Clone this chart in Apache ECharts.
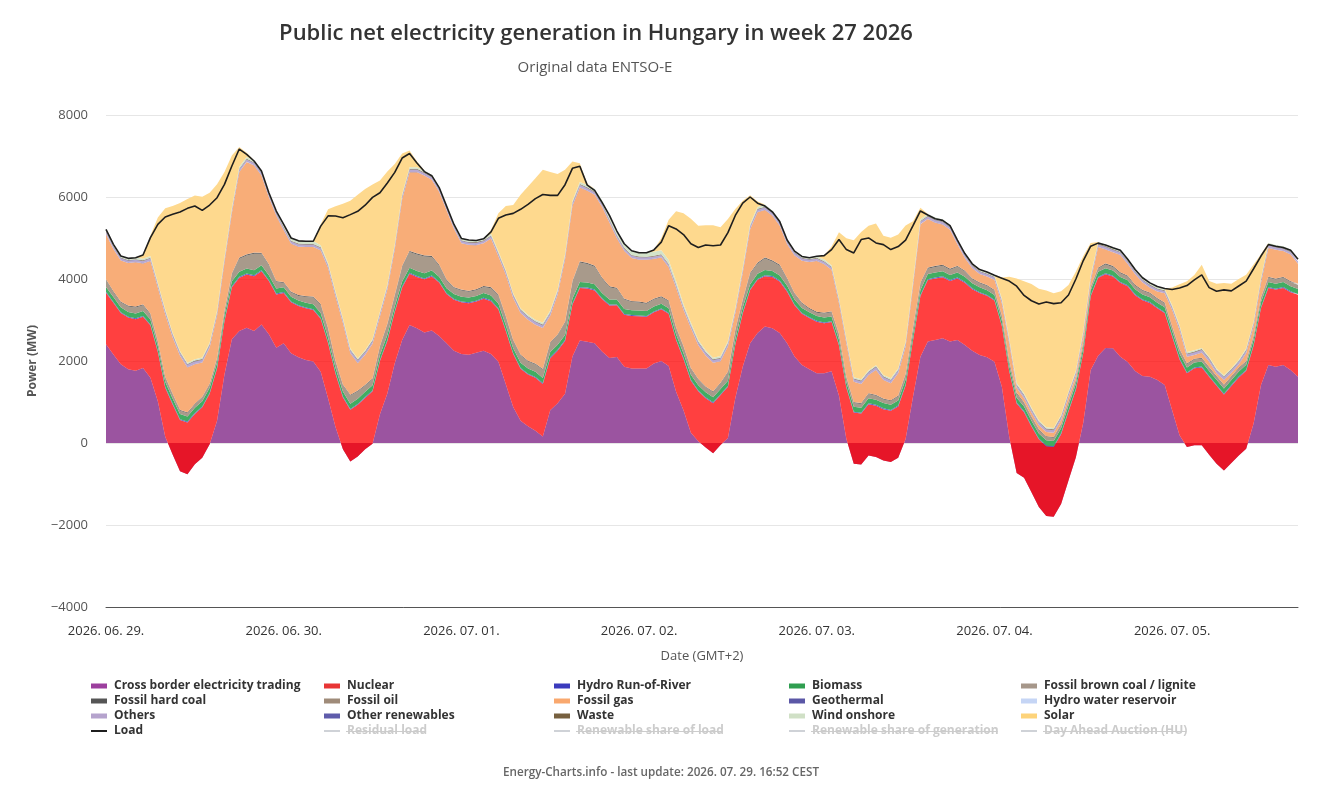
<!DOCTYPE html>
<html><head><meta charset="utf-8">
<script src="https://cdn.jsdelivr.net/npm/echarts@6/dist/echarts.min.js"></script>
<style>html,body{margin:0;padding:0;background:#fff}#c{width:1329px;height:796px}</style>
</head><body><div id="c"></div>
<script>
// ---- tick labels (one every 24 samples) ----
const dayLabels = ['2026. 06. 29.','2026. 06. 30.','2026. 07. 01.','2026. 07. 02.','2026. 07. 03.','2026. 07. 04.','2026. 07. 05.'];

// ---- series values (MW), samples ----
const cross = [
2406,2160,1920,1800,1760,1830,1590,1020,150,-280,-690,-760,-520,-360,-30,540,1670,2530,2730,2810,2730,2890,2650,2325,
2430,2190,2090,2025,1985,1740,1085,390,-150,-450,-330,-150,-20,700,1209,1943,2514,2881,2800,2693,2742,2612,2433,2253,
2170,2150,2200,2250,2170,1980,1430,880,540,410,300,160,800,970,1200,2110,2500,2470,2432,2230,2075,2100,1857,1820,
1820,1820,1940,2000,1880,1250,800,250,40,-110,-250,-50,120,1100,1860,2430,2680,2840,2800,2680,2430,2110,1900,1800,
1700,1700,1750,1150,100,-506,-522,-302,-342,-424,-465,-360,100,1126,2106,2473,2514,2555,2473,2514,2391,2253,2147,2090,
1983,1371,147,-734,-848,-1199,-1560,-1780,-1800,-1485,-914,-350,500,1779,2130,2318,2310,2106,1975,1755,1632,1616,1534,1412,
800,188,-98,-57,-57,-285,-506,-669,-489,-302,-139,474,1412,1902,1861,1902,1779,1616];

const nuclear = [
1260,1260,1250,1260,1260,1250,1280,1200,1200,1220,1250,1260,1230,1230,1230,1280,1300,1270,1300,1300,1340,1300,1300,1300,
1230,1240,1250,1260,1260,1290,1350,1300,1260,1260,1260,1250,1280,1300,1280,1250,1280,1250,1250,1300,1320,1300,1200,1240,
1260,1260,1250,1270,1290,1280,1300,1290,1270,1260,1290,1280,1270,1280,1290,1270,1280,1300,1290,1280,1280,1260,1270,1280,
1270,1260,1250,1260,1270,1260,1250,1270,1220,1200,1220,1220,1250,1300,1300,1300,1300,1230,1250,1260,1260,1250,1250,1250,
1260,1220,1200,1230,1250,1250,1240,1250,1250,1250,1250,1250,1300,1380,1480,1500,1500,1490,1480,1500,1520,1500,1510,1500,
1490,1480,1600,1700,1600,1600,1650,1700,1700,1700,1680,1650,1700,1800,1900,1800,1750,1800,1850,1850,1850,1800,1750,1760,
1800,1850,1800,1880,1900,1900,1900,1850,1880,1900,1900,1900,1880,1880,1880,1880,1900,2000];

const hydroRoR = [
21,21,20,20,20,20,21,21,21,22,22,22,22,22,21,21,21,21,22,22,21,21,21,21,
21,20,20,20,20,20,21,21,22,22,22,22,22,21,21,21,21,22,22,22,21,21,21,21,
20,20,20,20,20,21,21,21,22,22,22,22,22,22,21,21,21,22,22,22,21,21,21,20,
20,20,20,20,20,21,21,22,22,22,22,22,22,21,21,21,21,22,22,21,21,21,20,20,
20,20,20,20,21,21,21,22,22,22,22,22,21,21,21,21,22,22,22,21,21,21,20,20,
20,20,20,20,21,21,21,22,22,22,22,22,21,21,21,21,21,22,22,21,21,21,20,20,
20,20,20,21,21,21,22,22,22,22,22,21,21,21,21,22,22,21];

const biomass = [
120,118,118,117,117,118,120,122,124,125,126,126,126,125,125,124,123,123,124,124,123,122,121,120,
119,118,117,117,117,118,120,122,123,124,125,125,125,124,124,123,123,124,125,125,124,122,121,120,
119,118,118,117,117,119,121,122,124,125,125,126,126,125,124,124,124,125,125,124,123,122,121,120,
119,118,118,117,118,119,121,123,124,125,126,126,125,125,124,124,125,126,125,124,123,122,121,120,
119,118,118,118,119,120,122,123,124,125,125,125,125,124,124,125,125,124,123,122,121,120,119,118,
118,117,117,118,119,121,122,123,124,125,125,125,124,124,125,125,124,123,122,121,120,119,118,118,
118,118,119,120,122,123,124,124,125,125,124,124,124,125,125,124,123,122];

const lignite = [
160,120,120,130,150,140,120,100,100,90,80,80,80,90,80,90,100,160,320,320,400,280,240,160,
100,100,110,140,165,200,200,150,150,200,180,150,150,200,250,250,350,380,400,410,330,270,185,145,
150,140,140,150,180,200,200,180,180,170,180,200,220,230,300,400,480,450,430,350,300,260,230,200,
200,180,170,160,170,150,150,140,130,120,120,130,200,200,170,250,245,280,230,240,160,130,110,80,
80,100,100,120,100,90,90,100,100,90,90,100,120,150,150,130,130,130,130,140,130,100,100,100,
100,100,100,100,80,80,80,80,80,80,80,80,100,60,80,90,90,90,90,90,90,90,90,90,
90,90,80,70,70,70,70,70,70,70,70,80,90,100,100,100,100,100];

const hardCoal = [
20,20,20,20,20,20,20,19,18,18,18,18,18,18,18,19,20,22,24,24,24,22,21,20,
20,20,20,20,20,20,20,19,18,18,18,18,18,18,19,20,22,24,24,24,23,22,21,20,
20,20,20,20,20,20,19,18,18,18,18,18,18,18,19,20,22,24,24,23,22,21,20,20,
20,20,20,20,20,19,18,18,18,18,18,18,18,18,19,21,23,24,24,23,22,21,20,20,
20,20,20,20,19,18,18,18,18,18,18,18,18,19,21,23,24,24,23,22,21,20,20,20,
20,20,20,19,18,18,18,18,18,18,18,18,18,19,21,22,22,21,20,20,20,20,20,20,
20,19,18,18,18,18,18,18,18,18,18,18,19,21,22,22,21,20];

const oil = [
5,5,5,5,5,5,5,5,4,4,4,4,4,4,4,5,5,6,6,6,6,5,5,5,
5,5,5,5,5,5,5,4,4,4,4,4,4,4,5,5,6,6,6,6,5,5,5,5,
5,5,5,5,5,5,4,4,4,4,4,4,4,4,5,5,6,6,6,5,5,5,5,5,
5,5,5,5,5,5,4,4,4,4,4,4,4,4,5,5,6,6,6,5,5,5,5,5,
5,5,5,5,4,4,4,4,4,4,4,4,4,5,5,6,6,5,5,5,5,5,5,5,
5,5,5,4,4,4,4,4,4,4,4,4,4,5,5,6,6,5,5,5,5,5,5,5,
5,5,4,4,4,4,4,4,4,4,4,4,5,5,6,6,5,5];

const gas = [
1101,1027,997,1037,1077,997,1284,1303,1523,1374,1317,1092,963,834,880,1025,1165,1475,2085,2247,2127,1887,1637,1592,
1267,1167,1177,1192,1207,1305,1468,1570,1497,1013,668,732,841,720,834,1109,1632,1918,1979,1944,1855,1775,1689,1419,
1127,1117,1072,1037,1185,929,1010,1019,1011,998,946,994,646,970,1517,1833,1801,1757,1725,1727,1552,1207,1160,1047,
1017,1047,967,945,805,965,883,975,825,755,695,525,615,401,651,1061,1230,1157,1087,947,827,917,1017,1117,
1237,1177,1012,746,817,495,464,444,606,454,413,543,665,998,1428,1184,1053,982,944,523,306,244,200,207,
244,295,420,120,100,100,100,100,100,100,120,100,150,150,497,339,327,421,282,252,175,116,158,225,
393,465,159,90,126,133,69,118,80,80,191,221,354,705,696,625,648,491];

const geothermal = [
3,3,3,3,3,3,3,3,3,3,3,3,3,3,3,3,3,3,3,3,3,3,3,3,
3,3,3,3,3,3,3,3,3,3,3,3,3,3,3,3,3,3,3,3,3,3,3,3,
3,3,3,3,3,3,3,3,2,2,2,2,2,3,3,3,3,3,3,3,3,3,3,3,
3,3,3,3,3,3,3,3,3,3,3,3,3,3,3,3,3,3,3,3,3,3,3,3,
3,3,3,3,3,3,3,3,3,3,3,3,3,3,3,3,3,3,3,3,3,3,3,3,
3,3,3,3,3,3,3,2,2,2,2,3,3,3,3,3,3,3,3,3,3,3,3,3,
3,3,3,3,3,3,3,3,3,3,3,3,3,3,3,3,3,3];

const hydroRes = [
0,0,0,0,0,0,0,0,0,0,0,0,0,0,0,0,0,1,1,1,0,0,0,0,
0,0,0,0,0,0,0,0,0,0,0,0,0,0,0,0,1,1,1,0,0,0,0,0,
0,0,0,0,0,0,0,0,0,0,0,0,0,0,0,1,1,1,0,0,0,0,0,0,
0,0,0,0,0,0,0,0,0,0,0,0,0,0,0,1,1,0,0,0,0,0,0,0,
0,0,0,0,0,0,0,0,0,0,0,0,0,0,1,1,0,0,0,0,0,0,0,0,
0,0,0,0,0,0,0,0,0,0,0,0,0,0,1,1,0,0,0,0,0,0,0,0,
0,0,0,0,0,0,0,0,0,0,0,0,0,1,1,0,0,0];

const others = [
48,48,47,47,47,48,50,52,54,55,56,56,56,55,54,53,52,52,51,50,50,49,49,48,
48,47,47,47,47,48,50,52,54,55,56,56,55,55,54,53,52,51,51,50,50,49,49,48,
48,47,47,47,48,50,52,54,55,56,56,56,55,54,53,52,52,51,50,50,49,49,48,48,
48,47,47,47,48,50,52,54,55,56,56,56,55,54,53,52,51,51,50,50,49,49,48,48,
47,47,47,48,50,52,54,55,56,56,56,55,54,53,52,51,51,50,50,49,49,48,48,47,
47,47,48,50,52,54,55,56,56,56,55,54,53,52,51,51,50,50,49,49,48,48,47,47,
48,50,52,54,55,56,56,56,55,54,53,52,51,51,50,50,49,49];

const otherRen = [
10,10,10,10,10,10,11,11,12,12,12,12,12,12,12,11,11,10,10,10,10,10,10,10,
10,10,10,10,10,10,11,11,12,12,12,12,12,12,11,11,10,10,10,10,10,10,10,10,
10,10,10,10,10,11,11,12,12,12,12,12,12,11,11,10,10,10,10,10,10,10,10,10,
10,10,10,10,11,11,12,12,12,12,12,12,12,11,11,10,10,10,10,10,10,10,10,10,
10,10,10,11,11,12,12,12,12,12,12,12,11,11,10,10,10,10,10,10,10,10,10,10,
10,10,11,11,12,12,12,12,12,12,12,11,11,10,10,10,10,10,10,10,10,10,10,10,
11,11,12,12,12,12,12,12,12,11,11,11,10,10,10,10,10,10];

const waste = [
15,15,15,15,15,15,16,16,16,16,16,16,16,16,16,16,16,16,16,16,16,15,15,15,
15,15,15,15,15,15,16,16,16,16,16,16,16,16,16,16,16,16,16,16,15,15,15,15,
15,15,15,15,15,16,16,16,16,16,16,16,16,16,16,16,16,16,16,15,15,15,15,15,
15,15,15,15,15,16,16,16,16,16,16,16,16,16,16,16,16,16,16,15,15,15,15,15,
15,15,15,15,16,16,16,16,16,16,16,16,16,16,16,16,16,16,15,15,15,15,15,15,
15,15,15,16,16,16,16,16,16,16,16,16,16,16,16,16,16,15,15,15,15,15,15,15,
15,16,16,16,16,16,16,16,16,16,16,16,16,16,16,16,15,15];

const wind = [
40,40,40,45,45,40,40,35,35,30,30,30,30,35,35,40,40,40,45,45,40,40,40,40,
70,70,70,70,70,50,40,40,35,35,30,30,30,30,35,35,40,40,40,45,45,45,50,50,
50,45,45,40,40,40,35,35,35,35,35,40,40,40,45,45,50,60,70,80,100,100,100,100,
100,100,100,100,100,80,60,50,45,40,40,40,40,40,40,45,45,50,50,50,45,45,40,40,
40,40,35,35,35,30,30,30,30,30,35,35,35,40,40,40,45,45,40,40,40,40,40,40,
40,40,40,35,35,35,35,30,30,30,30,35,35,40,40,40,45,45,40,40,40,40,35,35,
35,35,35,30,30,30,30,30,30,30,35,35,35,40,40,40,45,45];

const solar = [
0,0,0,0,0,100,493,1594,2464,3093,3610,3995,3994,3923,3657,3082,2082,1282,482,100,0,0,0,0,
0,0,0,0,0,512,1314,2077,2790,3594,3989,3925,3766,3197,2764,1965,991,408,138,0,0,0,0,0,
0,0,0,0,92,928,1557,2148,2766,3129,3451,3733,3381,2817,2060,954,456,30,0,0,0,0,0,0,
0,0,50,292,982,1702,2214,2532,2782,3052,3232,3142,2982,2416,1636,706,132,0,0,0,0,0,0,0,
0,100,455,1621,2450,3338,3595,3525,3453,3397,3429,3264,2832,1463,283,0,0,0,0,0,0,0,0,0,
0,511,1510,2551,2735,3016,3207,3337,3287,3022,2601,2417,1827,798,0,0,0,0,0,0,0,0,0,0,
434,1004,1726,1834,2028,1849,2064,2248,2056,1969,1795,1392,581,0,0,0,0,0];

const load = [
5211,4845,4561,4504,4520,4585,5008,5333,5512,5577,5634,5723,5780,5674,5804,5983,6308,6756,7170,7040,6878,6634,6105,5658,
5330,5000,4930,4921,4921,5290,5540,5535,5495,5570,5650,5800,5990,6104,6340,6600,6950,7060,6830,6620,6520,6230,5778,5330,
4990,4950,4940,4980,5150,5480,5560,5600,5700,5820,5960,6060,6040,6040,6300,6700,6750,6290,6160,5870,5550,5170,4860,4690,
4640,4640,4710,4900,5300,5220,5084,4860,4770,4830,4810,4830,5130,5550,5850,6000,5850,5780,5640,5400,4950,4680,4550,4520,
4554,4570,4717,4962,4717,4635,4962,5002,4880,4839,4717,4790,4950,5300,5660,5560,5470,5430,5300,4950,4620,4370,4230,4170,
4090,4020,3950,3825,3600,3470,3390,3440,3400,3420,3610,4000,4450,4800,4875,4830,4760,4700,4480,4230,4030,3905,3815,3770,
3745,3780,3840,3980,4100,3790,3700,3735,3710,3830,3950,4250,4560,4840,4800,4770,4700,4480];

// ---- build chart ----
const FONT = "'Open Sans','Noto Sans',sans-serif";
const sampleIndex = load.map((_, i) => String(i));   // category slots of the x axis
const areaDefs = [
  ['Cross border electricity trading', cross, '#9c3f9e', '#9b54a0'],
  ['Nuclear', nuclear, '#e83535', 'rgba(255,0,0,0.75)'],
  ['Hydro Run-of-River', hydroRoR, '#3b3bbd', '#5a5ac8'],
  ['Biomass', biomass, '#2f9e50', '#41ad62'],
  ['Fossil brown coal / lignite', lignite, '#a6978a', '#a89a8b'],
  ['Fossil hard coal', hardCoal, '#555555', '#5e5e5e'],
  ['Fossil oil', oil, '#9f8b79', '#a08c7a'],
  ['Fossil gas', gas, '#f9a86e', '#f8ad78'],
  ['Geothermal', geothermal, '#5b57a6', '#6d69b0'],
  ['Hydro water reservoir', hydroRes, '#c5d5f5', '#c5d5f5'],
  ['Others', others, '#b5a3cd', '#b8a8d0'],
  ['Other renewables', otherRen, '#5f5cab', '#7471b8'],
  ['Waste', waste, '#77603f', '#8a7352'],
  ['Wind onshore', wind, '#d0e0c6', '#d3e3ca'],
  ['Solar', solar, '#fdd37a', '#fed98e']
];
const hiddenNames = ['Residual load','Renewable share of load','Renewable share of generation','Day Ahead Auction (HU)'];
const lineNames = ['Load'].concat(hiddenNames);

const series = areaDefs.map(([name, arr, col, fill]) => ({
  name, type: 'line', stack: 'gen', stackStrategy: 'all',
  data: arr,
  symbol: 'none', showSymbol: false, silent: true,
  lineStyle: {width: 0}, itemStyle: {color: col},
  areaStyle: {color: fill, opacity: 1}, z: 2
}));
series.push({
  name: 'Load', type: 'line', data: load,
  symbol: 'none', showSymbol: false, silent: true,
  lineStyle: {color: '#1e1e1e', width: 1.6}, itemStyle: {color: '#1e1e1e'}, z: 5
});
hiddenNames.forEach(n => series.push({
  name: n, type: 'line', data: [], symbol: 'none',
  lineStyle: {color: '#888', width: 1.5}, itemStyle: {color: '#888'}
}));

const cols = [
  ['Cross border electricity trading','Fossil hard coal','Others','Load'],
  ['Nuclear','Fossil oil','Other renewables','Residual load'],
  ['Hydro Run-of-River','Fossil gas','Waste','Renewable share of load'],
  ['Biomass','Geothermal','Wind onshore','Renewable share of generation'],
  ['Fossil brown coal / lignite','Hydro water reservoir','Solar','Day Ahead Auction (HU)']
];
const colX = [90, 323, 553, 788, 1020];
const legendFont = {fontSize: 12, fontWeight: 'bold', color: '#333', lineHeight: 15, fontFamily: FONT, padding: [0,0,0,2]};
const legends = cols.map((names, ci) => {
  const sel = {};
  names.forEach(n => { sel[n] = hiddenNames.indexOf(n) < 0; });
  return {
    orient: 'vertical', left: colX[ci], top: 678.5, padding: 0,
    itemWidth: 16, itemHeight: 5, itemGap: 0,
    data: names.map(n => lineNames.indexOf(n) >= 0 ? {name: n, itemStyle: {opacity: 0}} : {name: n, icon: 'rect'}),
    selected: sel, inactiveColor: '#cccccc', textStyle: legendFont
  };
});

// strike-through for hidden legend entries
const cv = document.createElement('canvas').getContext('2d');
cv.font = "bold 12px 'Open Sans'";
const graphics = [];
cols.forEach((names, ci) => names.forEach((n, ri) => {
  if (hiddenNames.indexOf(n) >= 0) {
    const x1 = colX[ci] + 23, w = cv.measureText(n).width;
    const y = 686 + ri * 15 + 0.5;
    graphics.push({type: 'line', shape: {x1: x1, y1: y, x2: x1 + w, y2: y}, style: {stroke: '#cccccc', lineWidth: 1}, silent: true});
  }
}));

const option = {
  animation: false,
  backgroundColor: '#ffffff',
  title: [
    {text: 'Public net electricity generation in Hungary in week 27 2026', left: 591, top: 18, textAlign: 'center',
     textStyle: {fontSize: 22, fontWeight: 600, color: '#333', fontFamily: FONT}},
    {text: 'Original data ENTSO-E', left: 590, top: 55, textAlign: 'center',
     textStyle: {fontSize: 15, fontWeight: 'normal', color: '#555', fontFamily: FONT}},
    {text: 'Energy-Charts.info - last update: 2026. 07. 29. 16:52 CEST', left: 656, top: 762, textAlign: 'center',
     textStyle: {fontSize: 11.7, fontWeight: 600, color: '#666', fontFamily: FONT}}
  ],
  grid: {left: 106, right: 31, top: 115, bottom: 189},
  xAxis: {
    type: 'category', data: sampleIndex, boundaryGap: false,
    name: 'Date (GMT+2)', nameLocation: 'middle', nameGap: 43,
    nameTextStyle: {fontSize: 13, color: '#555', fontFamily: FONT},
    axisLine: {onZero: false, lineStyle: {color: '#555', width: 1}},
    axisTick: {show: false}, splitLine: {show: false},
    axisLabel: {interval: 23, margin: 18, color: '#333', fontSize: 13, fontFamily: FONT,
      formatter: (v, idx) => (idx % 24 === 0 && dayLabels[idx / 24]) ? dayLabels[idx / 24] : ''}
  },
  yAxis: {
    type: 'value', min: -4000, max: 8000, interval: 2000,
    name: 'Power (MW)', nameLocation: 'middle', nameGap: 67, nameRotate: 90,
    nameTextStyle: {fontSize: 12, fontWeight: 'bold', color: '#555', fontFamily: FONT},
    axisLine: {show: false}, axisTick: {show: false},
    splitLine: {lineStyle: {color: '#e6e6e6', width: 1}},
    axisLabel: {margin: 18, color: '#555', fontSize: 13, fontFamily: FONT,
      formatter: v => String(v).replace('-', '\u2212')}
  },
  legend: legends,
  series: series,
  graphic: graphics
};
const chart = echarts.init(document.getElementById('c'));
chart.setOption(option);
</script></body></html>
